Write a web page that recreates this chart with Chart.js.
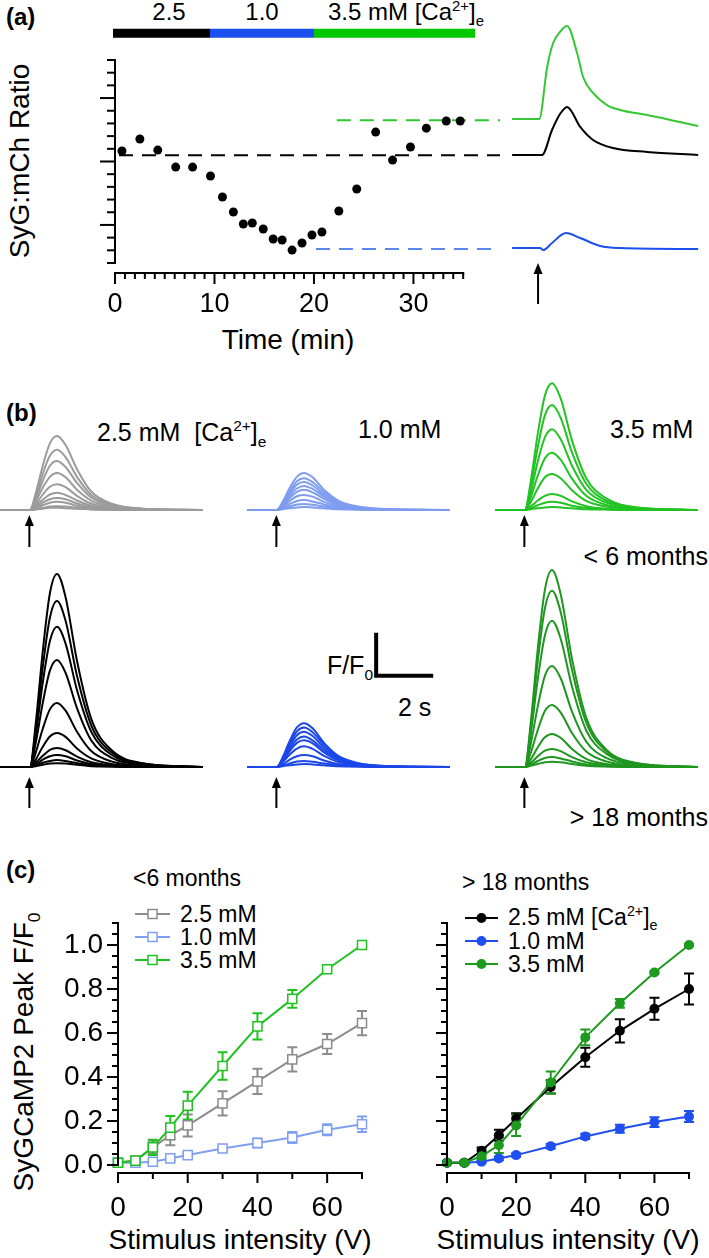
<!DOCTYPE html>
<html>
<head>
<meta charset="utf-8">
<script src="https://cdn.jsdelivr.net/npm/chart.js@4.4.1/dist/chart.umd.min.js"></script>
<style>
  body { margin: 0; background: #fff; }
  #fig { position: relative; width: 709px; height: 1258px; overflow: hidden; background: #fff;
         font-family: "Liberation Sans", Arial, sans-serif; color: #000; }
  #fig canvas { position: absolute; }
  .t { position: absolute; white-space: nowrap; line-height: 1; }
  .m { transform: translateY(-50%); }
  .c { transform: translate(-50%, -50%); }
  .r { transform: translate(-50%, -50%) rotate(-90deg); }
  .b { font-weight: bold; }
  sup, sub { font-size: 0.62em; line-height: 0; }
</style>
</head>
<body>
<div id="fig">
  <!-- panel (a) text -->
  <div class="t m b" style="left:6px;top:17px;font-size:24px">(a)</div>
  <div class="t c" style="left:169px;top:12px;font-size:24px">2.5</div>
  <div class="t c" style="left:262px;top:12px;font-size:24px">1.0</div>
  <div class="t m" style="left:328px;top:12px;font-size:24px">3.5 mM [Ca<sup>2+</sup>]<sub>e</sub></div>
  <div class="t r" style="left:20px;top:161px;font-size:28px">SyG:mCh Ratio</div>
  <div class="t c" style="left:288px;top:340px;font-size:28px">Time (min)</div>

  <!-- panel (b) text -->
  <div class="t m b" style="left:6px;top:413px;font-size:24px">(b)</div>
  <div class="t m" style="left:97px;top:432px;font-size:25px">2.5 mM&nbsp; [Ca<sup>2+</sup>]<sub>e</sub></div>
  <div class="t m" style="left:358px;top:429px;font-size:25px">1.0 mM</div>
  <div class="t m" style="left:610px;top:429px;font-size:25px">3.5 mM</div>
  <div class="t m" style="right:1px;top:556px;font-size:25px">&lt; 6 months</div>
  <div class="t m" style="right:1px;top:817px;font-size:25px">&gt; 18 months</div>
  <div class="t m" style="right:336px;top:665px;font-size:25px">F/F<sub>0</sub></div>
  <div class="t m" style="left:398px;top:707px;font-size:25px">2 s</div>

  <!-- panel (c) text -->
  <div class="t m b" style="left:6px;top:870px;font-size:24px">(c)</div>
  <div class="t m" style="left:133px;top:878px;font-size:23px">&lt;6 months</div>
  <div class="t m" style="left:180px;top:914px;font-size:23px">2.5 mM</div>
  <div class="t m" style="left:180px;top:937px;font-size:23px">1.0 mM</div>
  <div class="t m" style="left:180px;top:960px;font-size:23px">3.5 mM</div>
  <div class="t m" style="left:462px;top:882px;font-size:23px">&gt; 18 months</div>
  <div class="t m" style="left:508px;top:917px;font-size:23px">2.5 mM [Ca<sup>2+</sup>]<sub>e</sub></div>
  <div class="t m" style="left:508px;top:941px;font-size:23px">1.0 mM</div>
  <div class="t m" style="left:508px;top:964px;font-size:23px">3.5 mM</div>
  <div class="t r" style="left:24px;top:1052px;font-size:28px">SyGCaMP2 Peak F/F<sub>0</sub></div>
  <div class="t c" style="left:240px;top:1240px;font-size:28px">Stimulus intensity (V)</div>
  <div class="t c" style="left:568px;top:1240px;font-size:28px">Stimulus intensity (V)</div>
</div>

<script>
// ---------- panel (a): SyG:mCh ratio over time ----------
const timeMin = [0.7, 2.5, 4.3, 6.1, 7.8, 9.6, 10.8, 11.9, 12.9, 13.8, 14.9, 15.9, 16.8,
                 17.8, 18.8, 19.8, 20.8, 22.5, 24.3, 26.2, 27.9, 29.7, 31.3, 33.3, 34.7];
const ratio = [8.83, 9.77, 8.90, 7.56, 7.56, 6.86, 5.20, 4.02, 3.07, 3.15, 2.68, 1.89, 1.81,
               1.02, 1.58, 2.21, 2.44, 4.10, 5.83, 10.32, 8.11, 9.14, 10.63, 11.19, 11.19];
// mean ratio levels in each [Ca2+]e (black 2.5, green 3.5, blue 1.0)
const levelValue = [8.50, 11.26, 1.10];
const levelStart = [0.4, 22.3, 20.2];
const levelEnd = 38.7;
// solution bar: 2.5, 1.0, 3.5 mM
const condStart = [-0.2, 9.55, 20.0];
const condEnd = [9.55, 20.0, 36.2];
const condBarLevel = 18.1;
const timeTicks = [0, 10, 20, 30];
const timeTickLabels = ['0', '10', '20', '30'];
const ratioMajorTicks = [3, 8, 13];

// example responses on the right of (a), time in s
const trGreenT = [0, 0.95, 1.23, 1.44, 1.68, 1.93, 2.28, 2.49, 2.84, 3.33, 3.79, 4.74, 5.89, 6.53];
const trGreenV = [11.35, 11.35, 15.45, 17.34, 18.21, 18.68, 16.55, 14.66, 13.40, 12.45, 12.06, 11.66, 11.11, 10.80];
const trBlackT = [0, 1.05, 1.40, 1.68, 1.93, 2.39, 2.84, 3.54, 4.74, 6.53];
const trBlackV = [8.51, 8.51, 10.48, 11.74, 12.30, 10.72, 9.69, 9.06, 8.75, 8.51];
const trBlueT = [0, 0.98, 1.09, 1.40, 1.89, 2.39, 3.09, 3.79, 6.53];
const trBlueV = [1.18, 1.18, 1.02, 1.58, 2.36, 1.97, 1.34, 1.18, 1.10];
const stimTimeA = 0.91;

// ---------- panel (b): SyGCaMP2 responses, F/F0 vs time (s) ----------
const traceTime = [0, 1.05, 1.25, 1.5, 1.75, 2.0, 2.3, 2.7, 3.2, 3.9, 5.0, 7.1];
const young25 = [
  [0, 0, 0.38, 1.03, 1.55, 1.72, 1.51, 0.95, 0.43, 0.15, 0.03, 0],
  [0, 0, 0.31, 0.84, 1.26, 1.40, 1.23, 0.77, 0.35, 0.13, 0.03, 0],
  [0, 0, 0.25, 0.68, 1.03, 1.14, 1.00, 0.63, 0.29, 0.10, 0.02, 0],
  [0, 0, 0.19, 0.52, 0.77, 0.86, 0.76, 0.47, 0.22, 0.08, 0.02, 0],
  [0, 0, 0.13, 0.36, 0.54, 0.60, 0.53, 0.33, 0.15, 0.05, 0.01, 0],
  [0, 0, 0.09, 0.24, 0.36, 0.40, 0.35, 0.22, 0.10, 0.04, 0.01, 0],
  [0, 0, 0.06, 0.17, 0.25, 0.28, 0.25, 0.15, 0.07, 0.03, 0.01, 0],
  [0, 0, 0.04, 0.11, 0.17, 0.19, 0.17, 0.10, 0.05, 0.02, 0, 0],
  [0, 0, 0.02, 0.05, 0.08, 0.09, 0.08, 0.05, 0.02, 0.01, 0, 0],
  [0, 0, 0.01, 0.03, 0.05, 0.05, 0.04, 0.03, 0.01, 0, 0, 0]
];
const young10 = [
  [0, 0, 0.19, 0.52, 0.77, 0.86, 0.76, 0.47, 0.22, 0.08, 0.02, 0],
  [0, 0, 0.16, 0.44, 0.67, 0.74, 0.65, 0.41, 0.19, 0.07, 0.01, 0],
  [0, 0, 0.14, 0.39, 0.59, 0.65, 0.57, 0.36, 0.16, 0.06, 0.01, 0],
  [0, 0, 0.12, 0.34, 0.50, 0.56, 0.49, 0.31, 0.14, 0.05, 0.01, 0],
  [0, 0, 0.10, 0.28, 0.42, 0.47, 0.41, 0.26, 0.12, 0.04, 0.01, 0],
  [0, 0, 0.08, 0.21, 0.32, 0.35, 0.31, 0.19, 0.09, 0.03, 0.01, 0],
  [0, 0, 0.05, 0.14, 0.21, 0.23, 0.20, 0.13, 0.06, 0.02, 0, 0],
  [0, 0, 0.03, 0.08, 0.13, 0.14, 0.12, 0.08, 0.04, 0.01, 0, 0],
  [0, 0, 0.02, 0.04, 0.06, 0.07, 0.06, 0.04, 0.02, 0.01, 0, 0]
];
const young35 = [
  [0, 0, 0.65, 1.77, 2.66, 2.95, 2.60, 1.62, 0.74, 0.27, 0.06, 0],
  [0, 0, 0.54, 1.46, 2.20, 2.44, 2.15, 1.34, 0.61, 0.22, 0.05, 0],
  [0, 0, 0.41, 1.13, 1.69, 1.88, 1.65, 1.03, 0.47, 0.17, 0.04, 0],
  [0, 0, 0.29, 0.80, 1.20, 1.33, 1.17, 0.73, 0.33, 0.12, 0.03, 0],
  [0, 0, 0.18, 0.50, 0.76, 0.84, 0.74, 0.46, 0.21, 0.08, 0.02, 0],
  [0, 0, 0.08, 0.22, 0.33, 0.37, 0.33, 0.20, 0.09, 0.03, 0.01, 0],
  [0, 0, 0.04, 0.11, 0.17, 0.19, 0.17, 0.10, 0.05, 0.02, 0, 0],
  [0, 0, 0.02, 0.04, 0.06, 0.07, 0.06, 0.04, 0.02, 0.01, 0, 0]
];
const old25 = [
  [0, 0, 0.99, 2.69, 4.04, 4.49, 3.95, 2.47, 1.12, 0.40, 0.09, 0],
  [0, 0, 0.85, 2.32, 3.47, 3.86, 3.40, 2.12, 0.97, 0.35, 0.08, 0],
  [0, 0, 0.72, 1.96, 2.93, 3.26, 2.87, 1.79, 0.82, 0.29, 0.07, 0],
  [0, 0, 0.55, 1.49, 2.24, 2.49, 2.19, 1.37, 0.62, 0.22, 0.05, 0],
  [0, 0, 0.33, 0.89, 1.34, 1.49, 1.31, 0.82, 0.37, 0.13, 0.03, 0],
  [0, 0, 0.17, 0.47, 0.71, 0.79, 0.70, 0.43, 0.20, 0.07, 0.02, 0],
  [0, 0, 0.10, 0.26, 0.40, 0.44, 0.39, 0.24, 0.11, 0.04, 0.01, 0],
  [0, 0, 0.06, 0.17, 0.25, 0.28, 0.25, 0.15, 0.07, 0.03, 0.01, 0],
  [0, 0, 0.04, 0.10, 0.14, 0.16, 0.14, 0.09, 0.04, 0.01, 0, 0],
  [0, 0, 0.02, 0.05, 0.08, 0.09, 0.08, 0.05, 0.02, 0.01, 0, 0]
];
const old10 = [
  [0, 0, 0.22, 0.61, 0.92, 1.02, 0.90, 0.56, 0.26, 0.09, 0.02, 0],
  [0, 0, 0.20, 0.55, 0.83, 0.92, 0.81, 0.51, 0.23, 0.08, 0.02, 0],
  [0, 0, 0.18, 0.49, 0.74, 0.82, 0.72, 0.45, 0.21, 0.07, 0.02, 0],
  [0, 0, 0.16, 0.43, 0.64, 0.71, 0.62, 0.39, 0.18, 0.06, 0.01, 0],
  [0, 0, 0.14, 0.37, 0.56, 0.62, 0.55, 0.34, 0.16, 0.06, 0.01, 0],
  [0, 0, 0.11, 0.29, 0.43, 0.48, 0.42, 0.26, 0.12, 0.04, 0.01, 0],
  [0, 0, 0.06, 0.17, 0.25, 0.28, 0.25, 0.15, 0.07, 0.03, 0.01, 0],
  [0, 0, 0.03, 0.08, 0.13, 0.14, 0.12, 0.08, 0.04, 0.01, 0, 0],
  [0, 0, 0.02, 0.04, 0.06, 0.07, 0.06, 0.04, 0.02, 0.01, 0, 0]
];
const old35 = [
  [0, 0, 1.01, 2.75, 4.12, 4.58, 4.03, 2.52, 1.15, 0.41, 0.09, 0],
  [0, 0, 0.90, 2.46, 3.69, 4.10, 3.61, 2.26, 1.03, 0.37, 0.08, 0],
  [0, 0, 0.75, 2.04, 3.06, 3.40, 2.99, 1.87, 0.85, 0.31, 0.07, 0],
  [0, 0, 0.52, 1.41, 2.12, 2.35, 2.07, 1.29, 0.59, 0.21, 0.05, 0],
  [0, 0, 0.32, 0.86, 1.30, 1.44, 1.27, 0.79, 0.36, 0.13, 0.03, 0],
  [0, 0, 0.17, 0.46, 0.69, 0.77, 0.68, 0.42, 0.19, 0.07, 0.02, 0],
  [0, 0, 0.09, 0.25, 0.38, 0.42, 0.37, 0.23, 0.11, 0.04, 0.01, 0],
  [0, 0, 0.05, 0.14, 0.21, 0.23, 0.20, 0.13, 0.06, 0.02, 0, 0],
  [0, 0, 0.03, 0.07, 0.11, 0.12, 0.11, 0.07, 0.03, 0.01, 0, 0]
];
const stimTimeB = 1.03;
// scale bar: 2 s by 1 F/F0
const scaleBarT = [4.53, 4.53, 6.53];
const scaleBarV = [3.12, 2.12, 2.12];

// ---------- panel (c): peak F/F0 vs stimulus intensity ----------
const volts = [0, 5, 10, 15, 20, 30, 40, 50, 60, 70];
const young25Peak = [0.01, 0.02, 0.08, 0.135, 0.18, 0.28, 0.38, 0.48, 0.55, 0.645];
const young25Err  = [0.01, 0.01, 0.03, 0.045, 0.05, 0.055, 0.057, 0.055, 0.045, 0.055];
const young10Peak = [0.01, 0.01, 0.015, 0.03, 0.045, 0.075, 0.10, 0.125, 0.16, 0.185];
const young10Err  = [0.005, 0.005, 0.01, 0.01, 0.01, 0.01, 0.02, 0.025, 0.025, 0.035];
const young35Peak = [0.01, 0.02, 0.08, 0.17, 0.27, 0.45, 0.63, 0.755, 0.89, 1.00];
const young35Err  = [0.01, 0.01, 0.035, 0.053, 0.063, 0.063, 0.06, 0.04, 0.01, 0.005];
const old25Peak = [0.01, 0.01, 0.065, 0.135, 0.21, 0.355, 0.49, 0.61, 0.71, 0.80];
const old25Err  = [0.005, 0.005, 0.015, 0.025, 0.025, 0.03, 0.043, 0.053, 0.05, 0.07];
const old10Peak = [0.01, 0.01, 0.015, 0.03, 0.045, 0.085, 0.13, 0.165, 0.195, 0.22];
const old10Err  = [0.005, 0.005, 0.005, 0.008, 0.008, 0.01, 0.012, 0.018, 0.022, 0.025];
const old35Peak = [0.01, 0.01, 0.04, 0.09, 0.18, 0.375, 0.58, 0.735, 0.875, 1.00];
const old35Err  = [0.005, 0.005, 0.01, 0.036, 0.048, 0.05, 0.036, 0.02, 0.005, 0.005];
const voltTicks = [0, 20, 40, 60];
const voltTickLabels = ['0', '20', '40', '60'];
const peakTicks = [0, 0.2, 0.4, 0.6, 0.8, 1.0];
const peakTickLabels = ['0.0', '0.2', '0.4', '0.6', '0.8', '1.0'];

// ---------- plugins ----------
// axes drawn apart from the data area, with major/minor ticks
const axesPlugin = {
  id: 'figAxes',
  afterDraw(chart, args, o) {
    const ctx = chart.ctx, area = chart.chartArea;
    ctx.save();
    ctx.strokeStyle = '#000';
    ctx.fillStyle = '#000';
    ctx.lineWidth = 2;
    if (o.x) {
      const a = o.x, s = chart.scales.x, y0 = area.bottom + a.gap;
      ctx.beginPath();
      ctx.moveTo(s.getPixelForValue(a.from) - 1, y0);
      ctx.lineTo(s.getPixelForValue(a.to) + 1, y0);
      ctx.stroke();
      const n = Math.round((a.to - a.from) / a.step);
      for (let k = 0; k <= n; k++) {
        const v = a.from + k * a.step, px = s.getPixelForValue(v);
        const major = a.major.some(m => Math.abs(m - v) < 1e-6);
        ctx.beginPath();
        ctx.moveTo(px, y0);
        ctx.lineTo(px, y0 + (major ? a.majorLen : a.minorLen));
        ctx.stroke();
      }
      if (a.labels) {
        ctx.font = a.font;
        ctx.textAlign = 'center';
        ctx.textBaseline = 'middle';
        a.major.forEach((m, i) => ctx.fillText(a.labels[i], s.getPixelForValue(m), y0 + a.labelGap));
      }
    }
    if (o.y) {
      const a = o.y, s = chart.scales.y, x0 = area.left - a.gap;
      ctx.beginPath();
      ctx.moveTo(x0, s.getPixelForValue(a.from) + 1);
      ctx.lineTo(x0, s.getPixelForValue(a.to) - 1);
      ctx.stroke();
      const n = Math.round((a.to - a.from) / a.step);
      for (let k = 0; k <= n; k++) {
        const v = a.from + k * a.step, py = s.getPixelForValue(v);
        const major = a.major.some(m => Math.abs(m - v) < 1e-6);
        ctx.beginPath();
        ctx.moveTo(x0, py);
        ctx.lineTo(x0 - (major ? a.majorLen : a.minorLen), py);
        ctx.stroke();
      }
      if (a.labels) {
        ctx.font = a.font;
        ctx.textAlign = 'right';
        ctx.textBaseline = 'middle';
        a.major.forEach((m, i) => ctx.fillText(a.labels[i], x0 - a.labelGap, s.getPixelForValue(m)));
      }
    }
    ctx.restore();
  }
};

// stimulus arrow under the traces
const arrowPlugin = {
  id: 'stimArrow',
  afterDatasetsDraw(chart, args, o) {
    if (o.t === undefined) return;
    const ctx = chart.ctx;
    const x = chart.scales.x.getPixelForValue(o.t);
    const y0 = chart.chartArea.bottom + o.offset, y1 = y0 + o.length;
    ctx.save();
    ctx.strokeStyle = '#000';
    ctx.fillStyle = '#000';
    ctx.lineWidth = 2;
    ctx.beginPath();
    ctx.moveTo(x, y1);
    ctx.lineTo(x, y0 + 8);
    ctx.stroke();
    ctx.beginPath();
    ctx.moveTo(x, y0);
    ctx.lineTo(x - 4.5, y0 + 11);
    ctx.lineTo(x + 4.5, y0 + 11);
    ctx.closePath();
    ctx.fill();
    ctx.restore();
  }
};

// vertical SEM bars with caps
const errPlugin = {
  id: 'errBars',
  beforeDatasetsDraw(chart) {
    const ctx = chart.ctx, xs = chart.scales.x, ys = chart.scales.y;
    chart.data.datasets.forEach(ds => {
      if (!ds.errors) return;
      ctx.save();
      ctx.strokeStyle = ds.borderColor;
      ctx.lineWidth = 2;
      ds.data.forEach((p, i) => {
        const e = ds.errors[i], x = xs.getPixelForValue(p.x);
        const yt = ys.getPixelForValue(p.y + e), yb = ys.getPixelForValue(p.y - e);
        ctx.beginPath();
        ctx.moveTo(x, yt); ctx.lineTo(x, yb);
        ctx.moveTo(x - 5, yt); ctx.lineTo(x + 5, yt);
        ctx.moveTo(x - 5, yb); ctx.lineTo(x + 5, yb);
        ctx.stroke();
      });
      ctx.restore();
    });
  }
};

// legend keys (line + marker); the text is HTML
const keyPlugin = {
  id: 'keys',
  afterDraw(chart, args, o) {
    if (!o.items) return;
    const ctx = chart.ctx;
    o.items.forEach((it, i) => {
      const ds = chart.data.datasets[i];
      ctx.save();
      ctx.strokeStyle = ds.borderColor;
      ctx.lineWidth = 2;
      ctx.beginPath();
      ctx.moveTo(it.x0, it.y);
      ctx.lineTo(it.x1, it.y);
      ctx.stroke();
      ctx.fillStyle = ds.pointBackgroundColor;
      ctx.lineWidth = ds.pointBorderWidth;
      Chart.helpers.drawPoint(ctx, {
        pointStyle: ds.pointStyle, radius: ds.pointRadius,
        borderWidth: ds.pointBorderWidth, rotation: 0
      }, (it.x0 + it.x1) / 2, it.y);
      ctx.restore();
    });
  }
};

const fig = document.getElementById('fig');

function makeChart(left, top, w, h, pad, xr, yr, datasets, plug) {
  const cv = document.createElement('canvas');
  cv.width = w;
  cv.height = h;
  cv.style.left = left + 'px';
  cv.style.top = top + 'px';
  cv.style.width = w + 'px';
  cv.style.height = h + 'px';
  fig.appendChild(cv);
  return new Chart(cv.getContext('2d'), {
    type: 'line',
    data: { datasets },
    options: {
      responsive: false,
      animation: false,
      devicePixelRatio: 1,
      layout: { padding: pad },
      scales: {
        x: { type: 'linear', display: false, min: xr[0], max: xr[1] },
        y: { type: 'linear', display: false, min: yr[0], max: yr[1] }
      },
      plugins: {
        legend: { display: false },
        tooltip: { enabled: false },
        figAxes: plug.axes || {},
        stimArrow: plug.arrow || {},
        keys: plug.keys || {}
      }
    },
    plugins: [axesPlugin, arrowPlugin, errPlugin, keyPlugin]
  });
}

const xy = (xs, ys) => xs.map((x, i) => ({ x: x, y: ys[i] }));
const seg = (a, b, v) => [{ x: a, y: v }, { x: b, y: v }];

// ---------- build panel (a) ----------
const levelColors = ['#000000', '#2ec82e', '#5a86ee'];
const condColors = ['#000000', '#1a50f0', '#00c800'];
const aSets = [{
  data: xy(timeMin, ratio), showLine: false, pointRadius: 4.5,
  pointBackgroundColor: '#000', pointBorderWidth: 0, clip: false
}];
levelValue.forEach((v, i) => aSets.push({
  data: seg(levelStart[i], levelEnd, v), borderColor: levelColors[i], borderWidth: 2,
  borderDash: [14, 9], pointRadius: 0, clip: false
}));
condStart.forEach((s, i) => aSets.push({
  data: seg(s, condEnd[i], condBarLevel), borderColor: condColors[i], borderWidth: 9,
  borderCapStyle: 'butt', pointRadius: 0, clip: false
}));
makeChart(0, 0, 505, 340, { left: 115, right: 5, top: 10, bottom: 77 }, [0, 38.7], [0, 19.94], aSets, {
  axes: {
    x: { from: 0, to: 35, step: 1, major: timeTicks, labels: timeTickLabels, gap: 10,
         majorLen: 11, minorLen: 6, labelGap: 32, font: '27px "Liberation Sans"' },
    y: { from: 0, to: 16, step: 1, major: ratioMajorTicks, gap: 0, majorLen: 15, minorLen: 8 }
  }
});

makeChart(505, 0, 204, 340, { left: 0, right: 0, top: 10, bottom: 77 }, [-0.25, 6.91], [0, 19.94], [
  { data: xy(trGreenT, trGreenV), borderColor: '#35c835', borderWidth: 2, pointRadius: 0, cubicInterpolationMode: 'monotone', clip: false },
  { data: xy(trBlackT, trBlackV), borderColor: '#000000', borderWidth: 2, pointRadius: 0, cubicInterpolationMode: 'monotone', clip: false },
  { data: xy(trBlueT, trBlueV), borderColor: '#1a4ff0', borderWidth: 2, pointRadius: 0, cubicInterpolationMode: 'monotone', clip: false }
], { arrow: { t: stimTimeA, offset: 0, length: 41 } });

// ---------- build panel (b) ----------
function traceSets(traces, color) {
  return traces.map(vals => ({
    data: xy(traceTime, vals), borderColor: color, borderWidth: 2, pointRadius: 0,
    cubicInterpolationMode: 'monotone', clip: false
  }));
}
const topRow = { top: 370, h: 185, ymax: 140 / 43, arrow: { t: stimTimeB, offset: 5, length: 32 } };
const botRow = { top: 560, h: 252, ymax: 207 / 43, arrow: { t: stimTimeB, offset: 10, length: 31 } };
const colLeft = [0, 247, 495];
const panelsB = [
  [topRow, 0, young25, '#9b9b9b'],
  [topRow, 1, young10, '#7e9cf0'],
  [topRow, 2, young35, '#22c322'],
  [botRow, 0, old25, '#000000'],
  [botRow, 1, old10, '#1b46e8'],
  [botRow, 2, old35, '#1f961f']
];
panelsB.forEach(([row, col, traces, color], idx) => {
  const sets = traceSets(traces, color);
  if (idx === 4) {
    sets.push({
      data: xy(scaleBarT, scaleBarV), borderColor: '#000', borderWidth: 4,
      borderCapStyle: 'butt', borderJoinStyle: 'miter', pointRadius: 0, clip: false
    });
  }
  makeChart(colLeft[col], row.top, 203, row.h, { left: 0, right: 0, top: 0, bottom: 45 },
    [0, 7.12], [0, row.ymax], sets, { arrow: row.arrow });
});

// ---------- build panel (c) ----------
function peakSet(ys, errs, color, filled, order) {
  return {
    data: xy(volts, ys), errors: errs, borderColor: color, borderWidth: 2,
    pointStyle: filled ? 'circle' : 'rect', pointRadius: filled ? 5 : 6.4,
    pointBackgroundColor: filled ? color : '#ffffff', pointBorderColor: color,
    pointBorderWidth: filled ? 0 : 1.5, order: order, clip: false
  };
}
const peakAxes = (labels) => ({
  x: { from: 0, to: 70, step: 10, major: voltTicks, labels: voltTickLabels, gap: 8,
       majorLen: 10, minorLen: 6, labelGap: 35, font: '28px "Liberation Sans"' },
  y: { from: 0, to: 1.1, step: 0.05, major: peakTicks, labels: labels, gap: 0,
       majorLen: 11, minorLen: 6, labelGap: 15, font: '28px "Liberation Sans"' }
});

makeChart(0, 840, 380, 418, { left: 118, right: 18, top: 83, bottom: 93 }, [0, 70], [0, 1.1], [
  peakSet(young25Peak, young25Err, '#8c8c8c', false, 2),
  peakSet(young10Peak, young10Err, '#7f9ff0', false, 1),
  peakSet(young35Peak, young35Err, '#1fc21f', false, 0)
], {
  axes: peakAxes(peakTickLabels),
  keys: { items: [{ x0: 135, x1: 170, y: 74 }, { x0: 135, x1: 170, y: 97 }, { x0: 135, x1: 170, y: 120 }] }
});

makeChart(380, 840, 329, 418, { left: 67, right: 20, top: 83, bottom: 93 }, [0, 70], [0, 1.1], [
  peakSet(old25Peak, old25Err, '#000000', true, 1),
  peakSet(old10Peak, old10Err, '#1f4ff0', true, 2),
  peakSet(old35Peak, old35Err, '#1e9a1e', true, 0)
], {
  axes: peakAxes(null),
  keys: { items: [{ x0: 85, x1: 118, y: 78 }, { x0: 85, x1: 118, y: 101 }, { x0: 85, x1: 118, y: 124 }] }
});
</script>
</body>
</html>
